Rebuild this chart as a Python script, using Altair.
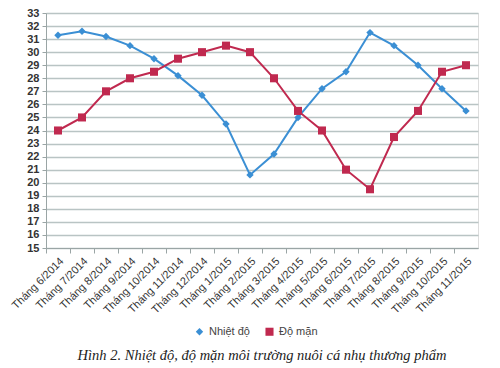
import altair as alt
import pandas as pd

months = ["Tháng 6/2014", "Tháng 7/2014", "Tháng 8/2014", "Tháng 9/2014", "Tháng 10/2014",
          "Tháng 11/2014", "Tháng 12/2014", "Tháng 1/2015", "Tháng 2/2015", "Tháng 3/2015",
          "Tháng 4/2015", "Tháng 5/2015", "Tháng 6/2015", "Tháng 7/2015", "Tháng 8/2015",
          "Tháng 9/2015", "Tháng 10/2015", "Tháng 11/2015"]
nhiet_do = [31.3, 31.6, 31.2, 30.5, 29.5, 28.2, 26.7, 24.5, 20.6, 22.2, 25.0, 27.2, 28.5,
            31.5, 30.5, 29.0, 27.2, 25.5]
do_man = [24.0, 25.0, 27.0, 28.0, 28.5, 29.5, 30.0, 30.5, 30.0, 28.0, 25.5, 24.0, 21.0,
          19.5, 23.5, 25.5, 28.5, 29.0]
series = ["Nhiệt độ", "Độ mặn"]
colors = ["#3b8fd4", "#c0294f"]
y_ticks = list(range(15, 34))

rows = []
for i, m in enumerate(months):
    rows.append({"month": m, "order": i, "series": series[0], "value": nhiet_do[i]})
    rows.append({"month": m, "order": i, "series": series[1], "value": do_man[i]})
df = pd.DataFrame(rows)

x_enc = alt.X("month:N", sort=months, bandPosition=0.5,
              scale=alt.Scale(type="band", paddingInner=0, paddingOuter=0),
              axis=alt.Axis(title=None, labelAngle=-45, bandPosition=0, grid=False,
                            domainColor="#9aa5a5", tickColor="#9aa5a5", tickSize=5,
                            labelFont="Liberation Sans", labelFontSize=11,
                            labelColor="#333333", labelPadding=2))
y_enc = alt.Y("value:Q", scale=alt.Scale(domain=[15, 33], nice=False, zero=False),
              axis=alt.Axis(title=None, values=y_ticks, grid=True, gridColor="#b9c4c4",
                            gridWidth=1.5, domainColor="#9aa5a5", tickColor="#9aa5a5",
                            tickSize=4, labelFont="Liberation Sans", labelFontSize=11,
                            labelFontWeight="bold", labelColor="#333333", labelPadding=3))

legend = alt.Legend(title=None, orient="none", direction="horizontal",
                    legendX=148, legendY=313, columns=2,
                    labelFont="Liberation Sans", labelFontSize=11,
                    labelColor="#444444", columnPadding=14,
                    symbolSize=60, symbolStrokeWidth=0)
color_enc = alt.Color("series:N", sort=series,
                      scale=alt.Scale(domain=series, range=colors),
                      legend=legend)

lines = alt.Chart(df).mark_line(strokeWidth=2).encode(
    x=x_enc, y=y_enc, color=color_enc, order="order:Q")

points = alt.Chart(df).mark_point(filled=True, opacity=1).encode(
    x=x_enc, y=y_enc,
    color=color_enc,
    shape=alt.Shape("series:N", sort=series,
                    scale=alt.Scale(domain=series, range=["diamond", "square"]),
                    legend=None),
    size=alt.Size("series:N", sort=series,
                  scale=alt.Scale(domain=series, range=[55, 65]), legend=None))

chart = alt.layer(lines, points).properties(
    width=432, height=235,
    autosize=alt.AutoSizeParams(type="none"),
    padding={"left": 38, "top": 5, "right": 14, "bottom": 118},
    title=alt.TitleParams(
        "Hình 2. Nhiệt độ, độ mặn môi trường nuôi cá nhụ thương phẩm",
        orient="bottom", anchor="middle", font="Liberation Serif", fontStyle="italic",
        fontWeight="normal", fontSize=14.5, color="#222222", offset=12)
).configure_view(stroke=None).configure(background="white")

chart.save("out.html", embed_options={"renderer": "svg", "actions": False})
